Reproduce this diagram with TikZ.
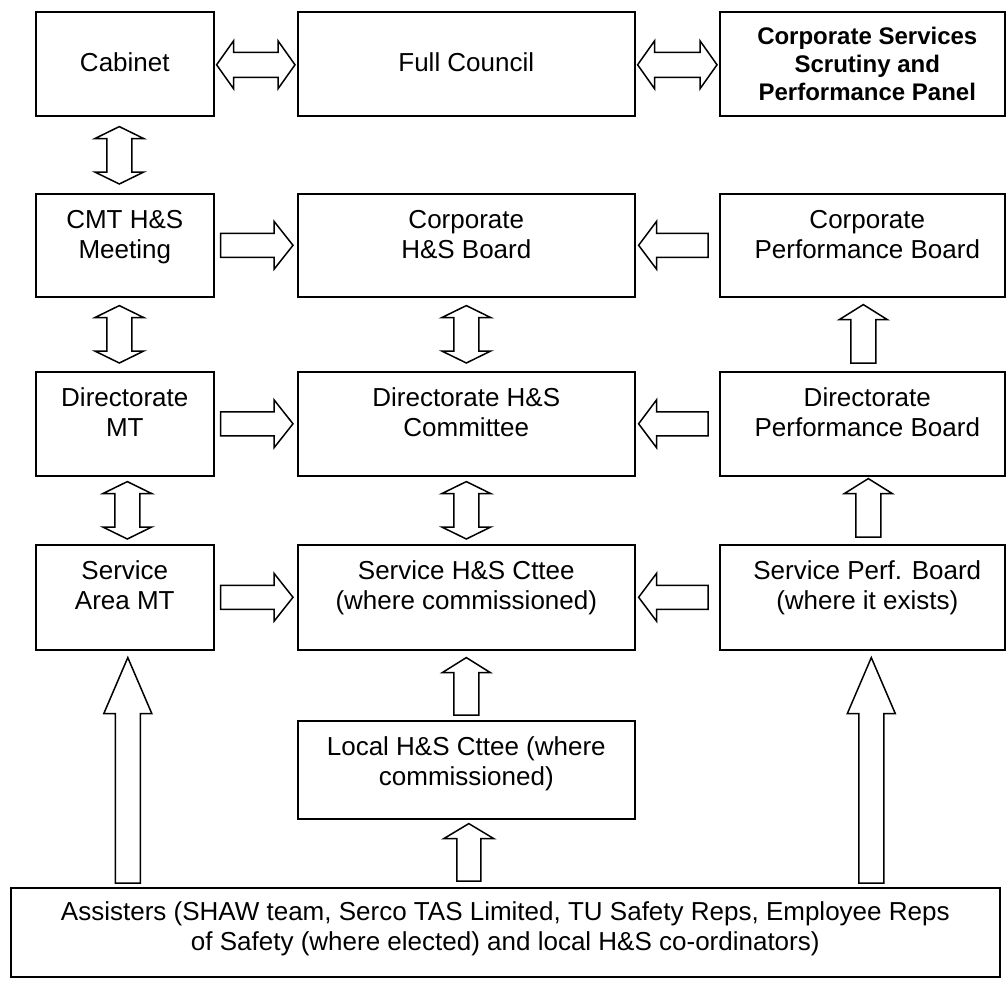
\documentclass[tikz,border=0pt]{standalone}
\usepackage{fontspec}
\setmainfont{Liberation Sans}
\usetikzlibrary{calc}
\newcommand\boxtxt[4]{\begin{minipage}[c][#2][t]{#1}\centering\rule{0pt}{#3}#4\end{minipage}}
\newcommand\boxtxtR[4]{\begin{minipage}[c][#2][t]{#1}\centering\leftskip=10pt plus 1fil\rule{0pt}{#3}#4\end{minipage}}
% single arrows: #1 tail, #2 tip, #3 head length, #4 shaft half, #5 head half
\newcommand\rarr[5]{\draw[blk] let \p1=#1, \p2=#2 in
  (\x1,\y1+#4) -- (\x2-#3,\y1+#4) -- (\x2-#3,\y1+#5) -- (\x2,\y1) -- (\x2-#3,\y1-#5) -- (\x2-#3,\y1-#4) -- (\x1,\y1-#4) -- cycle;}
\newcommand\larr[5]{\draw[blk] let \p1=#1, \p2=#2 in
  (\x1,\y1+#4) -- (\x2+#3,\y1+#4) -- (\x2+#3,\y1+#5) -- (\x2,\y1) -- (\x2+#3,\y1-#5) -- (\x2+#3,\y1-#4) -- (\x1,\y1-#4) -- cycle;}
\newcommand\uarr[5]{\draw[blk] let \p1=#1, \p2=#2 in
  (\x1-#4,\y1) -- (\x1-#4,\y2-#3) -- (\x1-#5,\y2-#3) -- (\x1,\y2) -- (\x1+#5,\y2-#3) -- (\x1+#4,\y2-#3) -- (\x1+#4,\y1) -- cycle;}
% double arrows: #1 first end, #2 second end
\newcommand\dblh[5]{\draw[blk] let \p1=#1, \p2=#2 in
  (\x1,\y1) -- (\x1+#3,\y1+#5) -- (\x1+#3,\y1+#4) -- (\x2-#3,\y1+#4) -- (\x2-#3,\y1+#5) -- (\x2,\y1)
  -- (\x2-#3,\y1-#5) -- (\x2-#3,\y1-#4) -- (\x1+#3,\y1-#4) -- (\x1+#3,\y1-#5) -- cycle;}
\newcommand\dblv[5]{\draw[blk] let \p1=#1, \p2=#2 in
  (\x1,\y1) -- (\x1+#5,\y1-#3) -- (\x1+#4,\y1-#3) -- (\x1+#4,\y2+#3) -- (\x1+#5,\y2+#3) -- (\x1,\y2)
  -- (\x1-#5,\y2+#3) -- (\x1-#4,\y2+#3) -- (\x1-#4,\y1-#3) -- (\x1-#5,\y1-#3) -- cycle;}
\tikzset{
  box/.style={draw, line width=1.6pt, inner sep=0pt, anchor=north west, fill=white,
    font=\fontsize{26}{30}\selectfont},
  blk/.style={draw, line width=1.5pt, fill=white, line join=miter}
}
\begin{document}
\begin{tikzpicture}[x=1pt, y=-1pt]
\useasboundingbox (0,0) rectangle (1007,982);
% row 1
\node[box] (cab) at (35,11) {\boxtxt{178pt}{104pt}{60pt}{Cabinet}};
\node[box] (fc) at (297,11) {\boxtxt{337pt}{104pt}{60pt}{Full Council}};
\node[box] (csp) at (719,11) {\boxtxtR{285pt}{104pt}{33pt}{\fontsize{24}{28}\selectfont\bfseries Corporate Services\\Scrutiny and\\Performance Panel}};
% row 2
\node[box] (cmt) at (35,193) {\boxtxt{178pt}{103pt}{35pt}{CMT H\&S\\Meeting}};
\node[box] (chs) at (297,193) {\boxtxt{337pt}{103pt}{35pt}{Corporate\\H\&S Board}};
\node[box] (cpb) at (719,193) {\boxtxtR{285pt}{103pt}{35pt}{Corporate\\Performance Board}};
% row 3
\node[box] (dmt) at (35,371) {\boxtxt{178pt}{104pt}{35pt}{Directorate\\MT}};
\node[box] (dhs) at (297,371) {\boxtxt{337pt}{104pt}{35pt}{Directorate H\&S\\Committee}};
\node[box] (dpb) at (719,371) {\boxtxtR{285pt}{104pt}{35pt}{Directorate\\Performance Board}};
% row 4
\node[box] (sam) at (35,544) {\boxtxt{178pt}{105pt}{35pt}{Service\\Area MT}};
\node[box] (shs) at (297,544) {\boxtxt{337pt}{105pt}{35pt}{Service H\&S Cttee\\(where commissioned)}};
\node[box] (spb) at (719,544) {\boxtxtR{285pt}{105pt}{35pt}{Service Perf. Board\\(where it exists)}};
% row 5
\node[box] (loc) at (297,720) {\boxtxt{337pt}{98pt}{35pt}{Local H\&S Cttee (where\\commissioned)}};
\node[box] (ass) at (10,887) {\boxtxt{989pt}{89pt}{33pt}{Assisters (SHAW team, Serco TAS Limited, TU Safety Reps, Employee Reps\\of Safety (where elected) and local H\&S co-ordinators)}};
% horizontal double arrows
\dblh{($(cab.east)+(2,1)$)}{($(fc.west)+(-2,0)$)}{17pt}{12.5pt}{24pt}
\dblh{($(fc.east)+(2,1)$)}{($(csp.west)+(-2,0)$)}{17pt}{12.5pt}{24pt}
% vertical double arrows
\dblv{($(cab.south)+(-5.5,10)$)}{($(cmt.north)+(-5.5,-9)$)}{12pt}{12.5pt}{24.5pt}
\dblv{($(cmt.south)+(-5.5,8)$)}{($(dmt.north)+(-5.5,-8)$)}{12pt}{12.5pt}{24.5pt}
\dblv{($(dmt.south)+(2.5,5)$)}{($(sam.north)+(2.5,-5)$)}{12pt}{12.5pt}{24.5pt}
\dblv{($(chs.south)+(0,8)$)}{($(dhs.north)+(0,-8)$)}{12pt}{12.5pt}{24.5pt}
\dblv{($(dhs.south)+(0,5)$)}{($(shs.north)+(0,-5)$)}{12pt}{12.5pt}{24.5pt}
% right arrows from left column
\rarr{($(cmt.east)+(6,0)$)}{($(chs.west)+(-4,0)$)}{19pt}{12pt}{24pt}
\rarr{($(dmt.east)+(6,0)$)}{($(dhs.west)+(-4,0)$)}{19pt}{12pt}{24pt}
\rarr{($(sam.east)+(6,0)$)}{($(shs.west)+(-4,0)$)}{19pt}{12pt}{24pt}
% left arrows from right column
\larr{($(cpb.west)+(-11,0)$)}{($(chs.east)+(3,0)$)}{18pt}{12pt}{24pt}
\larr{($(dpb.west)+(-11,0)$)}{($(dhs.east)+(3,0)$)}{18pt}{12pt}{24pt}
\larr{($(spb.west)+(-11,0)$)}{($(shs.east)+(3,0)$)}{18pt}{12pt}{24pt}
% up arrows right column
\uarr{($(dpb.north)+(1,-8)$)}{($(cpb.south)+(1,7)$)}{15pt}{12.5pt}{24pt}
\uarr{($(spb.north)+(6,-7)$)}{($(dpb.south)+(6,2)$)}{15pt}{12.5pt}{24pt}
% up arrows middle
\uarr{($(loc.north)+(0,-5)$)}{($(shs.south)+(0,7)$)}{15pt}{12.5pt}{24pt}
\uarr{($(ass.north -| loc.south)+(2.5,-6)$)}{($(loc.south)+(2.5,4)$)}{15pt}{12pt}{25pt}
% big up arrows
\uarr{($(ass.north -| sam.south)+(3,-4)$)}{($(sam.south)+(3,7)$)}{56pt}{12.5pt}{24pt}
\uarr{($(ass.north -| spb.south)+(9,-4)$)}{($(spb.south)+(9,7)$)}{56pt}{12.5pt}{24pt}
\end{tikzpicture}
\end{document}
